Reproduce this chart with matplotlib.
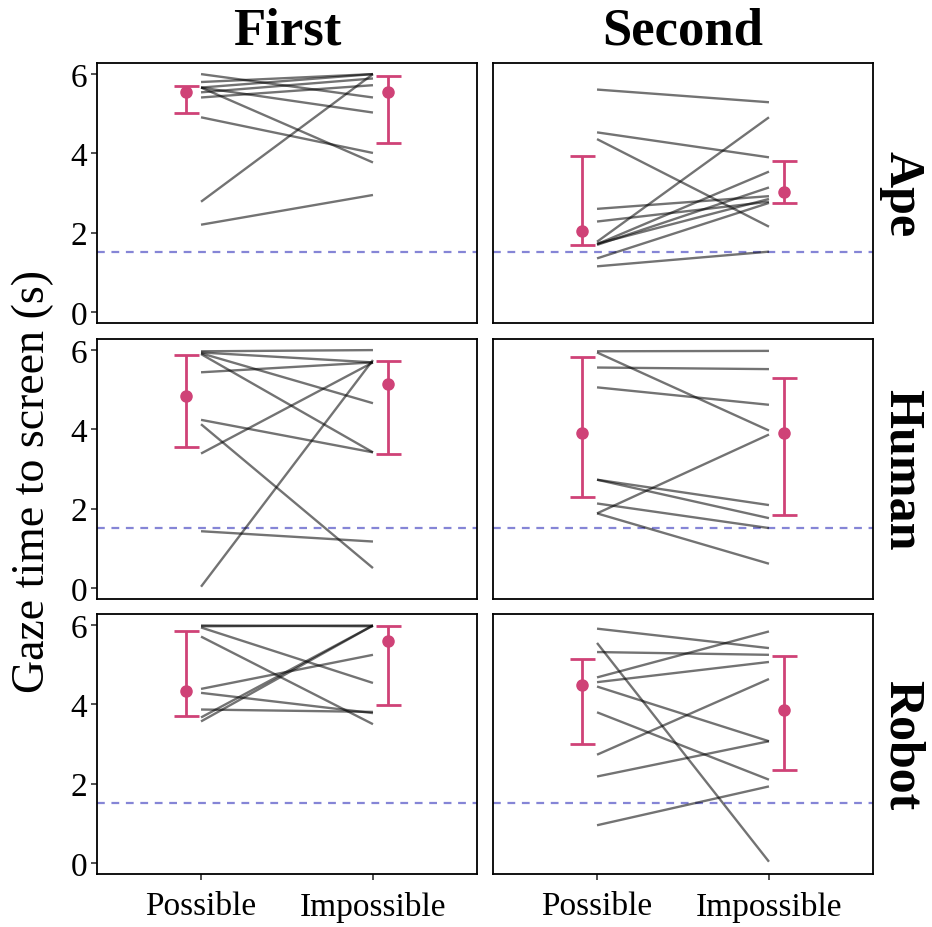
import matplotlib
matplotlib.use("Agg")
import matplotlib.pyplot as plt

plt.rcParams['font.family'] = ['Liberation Serif', 'DejaVu Serif']

# 数据
conditions = ["Possible", "Impossible"]
orders = ["First", "Second"]
agents = ["Ape", "Human", "Robot"]
chance = 1.5

ape_first_possible = [6.00, 5.80, 5.66, 5.66, 5.66, 5.54, 5.41, 4.91, 2.78, 2.20]
ape_first_impossible = [5.41, 6.00, 6.00, 5.03, 3.77, 5.89, 5.72, 4.01, 6.00, 2.95]
ape_second_possible = [5.61, 4.53, 4.36, 2.60, 2.28, 1.77, 1.71, 1.69, 1.72, 1.35, 1.15]
ape_second_impossible = [5.29, 3.90, 2.15, 2.92, 2.78, 4.91, 3.54, 3.14, 2.85, 2.75, 1.52]
human_first_possible = [5.97, 5.94, 5.92, 5.90, 5.44, 4.24, 4.13, 3.39, 1.43, 0.03]
human_first_impossible = [6.00, 5.69, 4.66, 3.42, 5.69, 3.42, 0.50, 5.69, 1.17, 5.75]
human_second_possible = [5.97, 5.94, 5.56, 5.06, 2.73, 2.73, 2.13, 1.88, 1.88]
human_second_impossible = [5.98, 3.97, 5.52, 4.62, 2.09, 1.76, 1.51, 3.87, 0.61]
robot_first_possible = [5.99, 5.97, 5.94, 5.71, 4.39, 4.29, 3.87, 3.67, 3.57]
robot_first_impossible = [5.97, 5.99, 4.54, 3.50, 5.25, 3.78, 3.81, 5.99, 5.99]
robot_second_possible = [5.91, 5.55, 5.32, 4.68, 4.56, 4.45, 3.80, 2.73, 2.18, 0.95]
robot_second_impossible = [5.42, 0.03, 5.25, 5.84, 5.07, 3.07, 2.10, 4.64, 3.07, 1.93]

# 均值和误差线 [Possible, Impossible]
ape_first_mean = [5.56, 5.56]
ape_first_low = [5.03, 4.26]
ape_first_high = [5.69, 5.94]
ape_second_mean = [2.03, 3.02]
ape_second_low = [1.69, 2.74]
ape_second_high = [3.94, 3.82]
human_first_mean = [4.84, 5.14]
human_first_low = [3.56, 3.39]
human_first_high = [5.88, 5.73]
human_second_mean = [3.91, 3.91]
human_second_low = [2.29, 1.85]
human_second_high = [5.83, 5.29]
robot_first_mean = [4.33, 5.61]
robot_first_low = [3.71, 3.99]
robot_first_high = [5.84, 5.97]
robot_second_mean = [4.50, 3.87]
robot_second_low = [3.00, 2.34]
robot_second_high = [5.15, 5.23]

panels = {
    ("Ape", "First"): (ape_first_possible, ape_first_impossible, ape_first_mean, ape_first_low, ape_first_high),
    ("Ape", "Second"): (ape_second_possible, ape_second_impossible, ape_second_mean, ape_second_low, ape_second_high),
    ("Human", "First"): (human_first_possible, human_first_impossible, human_first_mean, human_first_low, human_first_high),
    ("Human", "Second"): (human_second_possible, human_second_impossible, human_second_mean, human_second_low, human_second_high),
    ("Robot", "First"): (robot_first_possible, robot_first_impossible, robot_first_mean, robot_first_low, robot_first_high),
    ("Robot", "Second"): (robot_second_possible, robot_second_impossible, robot_second_mean, robot_second_low, robot_second_high),
}

W, H = 932, 928
fig = plt.figure(figsize=(W / 100, H / 100), dpi=100)

col_left = [97, 493]
col_w = 380
row_top = [64, 340, 615]
row_h = 260
pink = '#CF4277'
xs = [1, 2]

for r, agent in enumerate(agents):
    for c, order in enumerate(orders):
        ax = fig.add_axes([col_left[c] / W, (H - row_top[r] - row_h) / H, col_w / W, row_h / H])
        poss, imp, mean, low, high = panels[(agent, order)]
        for a, b in zip(poss, imp):
            ax.plot(xs, [a, b], color='black', alpha=0.55, lw=1.7, solid_capstyle='butt', zorder=2)
        ax.axhline(chance, color='#8585D6', lw=1.6, dashes=(3.5, 3), zorder=1)
        ex = [0.91, 2.085]
        yerr = [[m - l for m, l in zip(mean, low)], [h - m for m, h in zip(mean, high)]]
        ax.errorbar(ex, mean, yerr=yerr, fmt='o', color=pink, ms=8, elinewidth=2,
                    capsize=9, capthick=2, zorder=3)
        ax.set_xlim(0.395, 2.605)
        ax.set_ylim(-0.28, 6.28)
        ax.set_yticks([0, 2, 4, 6])
        ax.set_xticks(xs)
        if c == 0:
            ax.tick_params(axis='y', labelsize=24, length=4, width=1.2, pad=3,
                           colors='#333333', labelcolor='black')
        else:
            ax.tick_params(axis='y', left=False, labelleft=False)
        if r == 2:
            ax.set_xticklabels(conditions)
            ax.tick_params(axis='x', labelsize=24, length=4, width=1.2, pad=8,
                           colors='#333333', labelcolor='black')
        else:
            ax.tick_params(axis='x', bottom=False, labelbottom=False)
        for s in ax.spines.values():
            s.set_linewidth(1.3)
            s.set_color('black')
        if r == 0:
            ax.set_title(order, fontsize=38, fontweight='bold', pad=14)
        if c == 1:
            ax.text(1.015, 0.5, agent, transform=ax.transAxes, rotation=-90, fontsize=36,
                    fontweight='bold', ha='left', va='center')

fig.text(33 / W, 1 - 482 / H, "Gaze time to screen (s)", rotation=90, fontsize=33,
         ha='center', va='center')

fig.savefig("out.png", dpi=100, facecolor='white')
